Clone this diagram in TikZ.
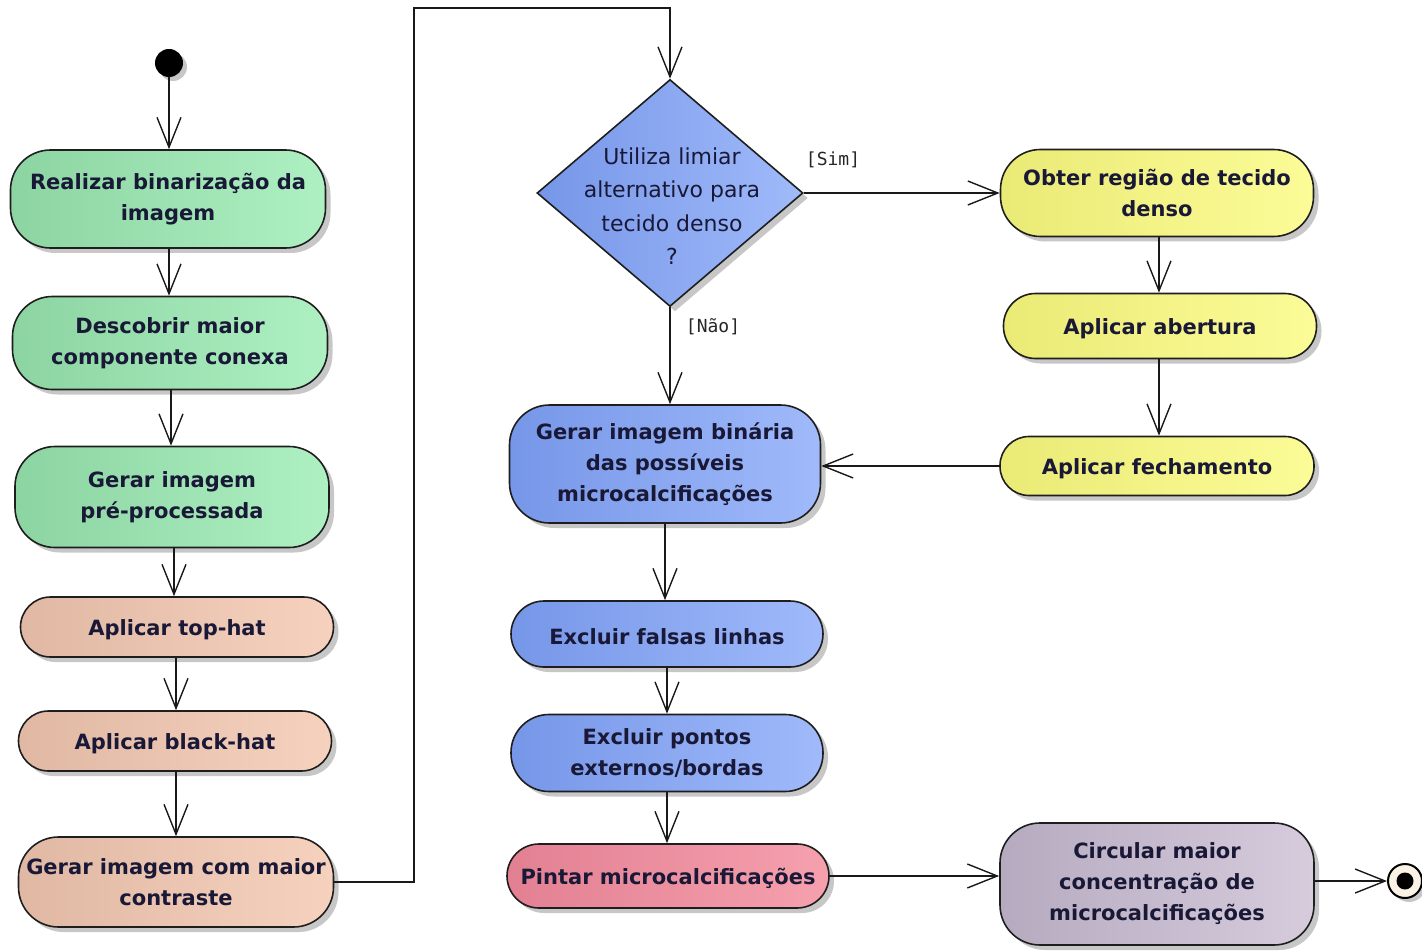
\documentclass[tikz,border=0pt]{standalone}
\usepackage{fontspec}
\setmainfont{DejaVu Sans}
\newfontfamily\monolbl{DejaVu Sans Mono}
\usetikzlibrary{arrows.meta,shadows,shapes.geometric}
\definecolor{txt}{RGB}{25,25,55}
\definecolor{bordc}{RGB}{30,30,30}
\definecolor{gL}{RGB}{140,212,162}\definecolor{gR}{RGB}{174,240,194}
\definecolor{pL}{RGB}{224,184,164}\definecolor{pR}{RGB}{246,210,190}
\definecolor{bL}{RGB}{118,150,232}\definecolor{bR}{RGB}{160,186,250}
\definecolor{yL}{RGB}{234,234,118}\definecolor{yR}{RGB}{252,252,152}
\definecolor{rL}{RGB}{226,128,146}\definecolor{rR}{RGB}{246,160,174}
\definecolor{vL}{RGB}{182,170,192}\definecolor{vR}{RGB}{214,204,220}
\definecolor{endfill}{RGB}{250,242,228}
\tikzset{
  act/.style={draw=bordc, line width=1.6pt, align=center, inner sep=2pt,
    text=txt, font=\fontsize{21}{31}\selectfont\bfseries,
    execute at begin node={\rule{0pt}{22pt}},
    drop shadow={shadow xshift=5pt, shadow yshift=-5pt, fill=black, opacity=0.22}},
  green/.style={left color=gL, right color=gR},
  peach/.style={left color=pL, right color=pR},
  blueb/.style={left color=bL, right color=bR},
  yell/.style={left color=yL, right color=yR},
  pinkb/.style={left color=rL, right color=rR},
  purp/.style={left color=vL, right color=vR},
  arr/.style={draw=black!90, line width=1.4pt, -{Straight Barb[length=30pt,width=24pt,line width=1.4pt]}},
  lbl/.style={font=\monolbl\fontsize{18}{20}\selectfont, text=black!85, inner sep=0pt},
  dtext/.style={font=\fontsize{22}{33.5}\selectfont, text=txt, align=center, inner sep=0pt}
}
\begin{document}
\begin{tikzpicture}[x=1pt,y=-1pt]
\useasboundingbox (0,0) rectangle (1422,952);
% start
\node[circle, fill=black, minimum size=28pt, inner sep=0pt,
  drop shadow={shadow xshift=4pt, shadow yshift=-4pt, fill=black, opacity=0.22}] (start) at (169,63) {};
% left column
\node[act, green, rounded corners=40pt, minimum width=315pt, minimum height=98pt] (b1) at (168,199) {Realizar binarização da\\imagem};
\node[act, green, rounded corners=40pt, minimum width=315pt, minimum height=93pt] (b2) at (170,343) {Descobrir maior\\componente conexa};
\node[act, green, rounded corners=40pt, minimum width=314pt, minimum height=101pt] (b3) at (172,497) {Gerar imagem\\pré-processada};
\node[act, peach, rounded corners=30pt, minimum width=313pt, minimum height=60pt] (b4) at (177,627) {Aplicar top-hat};
\node[act, peach, rounded corners=30pt, minimum width=313pt, minimum height=60pt] (b5) at (175,741) {Aplicar black-hat};
\node[act, peach, rounded corners=40pt, minimum width=315pt, minimum height=90pt] (b6) at (176,882) {Gerar imagem com maior\\contraste};
% decision
\node[diamond, draw=bordc, line width=1.6pt, left color=bL, right color=bR, minimum width=266pt, minimum height=227pt, inner sep=0pt,
  drop shadow={shadow xshift=5pt, shadow yshift=-5pt, fill=black, opacity=0.22}] (d) at (670,193) {};
\node[dtext] (dq) at (672,206) {Utiliza limiar\\alternativo para\\tecido denso\\?};
\node[lbl] (sim) at (833,160) {[Sim]};
\node[lbl] (nao) at (713,327) {[Não]};
% right column
\node[act, yell, rounded corners=40pt, minimum width=313pt, minimum height=87pt] (y1) at (1157,193) {Obter região de tecido\\denso};
\node[act, yell, rounded corners=32pt, minimum width=313pt, minimum height=65pt] (y2) at (1160,326) {Aplicar abertura};
\node[act, yell, rounded corners=29pt, minimum width=314pt, minimum height=59pt] (y3) at (1157,466) {Aplicar fechamento};
% middle column
\node[act, blueb, rounded corners=40pt, minimum width=311pt, minimum height=118pt] (c1) at (665,464) {Gerar imagem binária\\das possíveis\\microcalcificações};
\node[act, blueb, rounded corners=33pt, minimum width=312pt, minimum height=66pt] (c2) at (667,634) {Excluir falsas linhas};
\node[act, blueb, rounded corners=38pt, minimum width=312pt, minimum height=77pt] (c3) at (667,753) {Excluir pontos\\externos/bordas};
\node[act, pinkb, rounded corners=32pt, minimum width=322pt, minimum height=64pt] (c4) at (668,876) {Pintar microcalcificações};
\node[act, purp, rounded corners=40pt, minimum width=314pt, minimum height=122pt] (pp) at (1157,884) {Circular maior\\concentração de\\microcalcificações};
% end
\node[circle, draw=black, line width=2pt, fill=endfill, minimum size=34pt, inner sep=0pt,
  drop shadow={shadow xshift=4pt, shadow yshift=-4pt, fill=black, opacity=0.22}] (end) at (1405,881) {};
\node[circle, fill=black, minimum size=17pt, inner sep=0pt] (endin) at (end) {};
% connectors
\coordinate (k1) at (414,8);
\draw[arr] (start) -- (start |- b1.north);
\draw[arr] (b1.south -| 169,0) -- (b2.north -| 169,0);
\draw[arr] (b2.south -| 171,0) -- (b3.north -| 171,0);
\draw[arr] (b3.south -| 174,0) -- (b4.north -| 174,0);
\draw[arr] (b4.south -| 176,0) -- (b5.north -| 176,0);
\draw[arr] (b5.south -| 176,0) -- (b6.north -| 176,0);
\draw[arr] (b6.east) -| (k1) -| (d.north);
\draw[arr] (d.east) -- (y1.west);
\draw[arr] (d.south) -- (d.south |- c1.north);
\draw[arr] (y1.south -| 1159,0) -- (y2.north -| 1159,0);
\draw[arr] (y2.south -| 1159,0) -- (y3.north -| 1159,0);
\draw[arr] (y3.west) -- (y3.west -| c1.east);
\draw[arr] (c1.south -| 665,0) -- (c2.north -| 665,0);
\draw[arr] (c2.south -| 667,0) -- (c3.north -| 667,0);
\draw[arr] (c3.south -| 667,0) -- (c4.north -| 667,0);
\draw[arr] (c4.east) -- (c4.east -| pp.west);
\draw[arr] (pp.east |- end) -- (end.west);
\end{tikzpicture}
\end{document}
